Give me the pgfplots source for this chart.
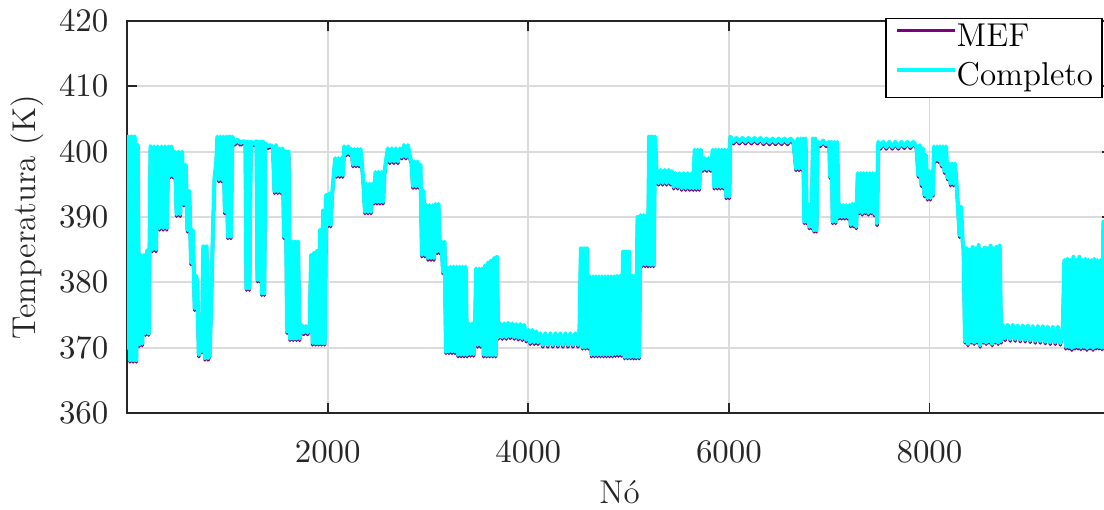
\documentclass[border=0pt]{standalone}
\usepackage{pgfplots}
\pgfplotsset{compat=1.18}
\usepackage{pgfplotstable}
\definecolor{mefc}{rgb}{0.49,0.0,0.5}
\definecolor{compc}{rgb}{0.0,1.0,1.0}
\definecolor{axc}{rgb}{0.15,0.15,0.15}
\definecolor{gridc}{rgb}{0.86,0.86,0.86}

\pgfplotstableread{
x c m
1 387.0 386.7
6 370.0 369.7
12 402.3 402.0
28 368.1 367.8
44 402.3 402.0
60 368.1 367.8
76 402.3 402.0
92 368.1 367.8
106 401.0 400.7
120 370.5 370.2
136 384.2 383.9
152 370.6 370.3
168 384.2 383.9
184 372.2 371.9
200 384.9 384.6
216 372.2 371.9
234 400.8 400.5
252 385.0 384.7
270 400.8 400.5
288 385.0 384.7
306 400.8 400.5
324 388.3 388.0
342 400.8 400.5
360 388.3 388.0
378 400.8 400.5
396 388.3 388.0
412 400.8 400.5
428 396.3 396.0
444 400.8 400.5
460 396.3 396.0
476 400.0 399.7
494 390.4 390.1
512 400.0 399.7
530 390.4 390.1
548 400.0 399.7
566 392.0 391.7
584 398.0 397.7
602 388.0 387.7
620 394.0 393.7
638 383.0 382.7
656 388.0 387.7
674 376.0 375.7
690 381.0 380.7
700 379.6 379.3
715 368.9 368.6
730 371.0 370.7
745 369.5 369.2
760 385.5 385.2
776 368.4 368.1
792 385.5 385.2
808 368.4 368.1
824 369.0 368.7
840 378.0 377.7
856 388.0 387.7
872 396.0 395.7
890 398.5 398.2
900 402.3 402.0
915 395.7 395.4
930 402.3 402.0
945 395.7 395.4
960 402.3 402.0
975 390.8 390.5
990 402.3 402.0
1005 387.0 386.7
1020 402.3 402.0
1035 387.0 386.7
1050 402.3 402.0
1070 401.3 401.0
1100 401.8 401.5
1130 401.3 401.0
1160 401.6 401.3
1180 401.5 401.2
1190 379.1 378.8
1205 401.5 401.2
1220 379.1 378.8
1234 401.5 401.2
1260 401.2 400.9
1290 401.6 401.3
1300 380.4 380.1
1312 401.5 401.2
1322 380.4 380.1
1332 401.5 401.2
1344 378.3 378.0
1356 401.5 401.2
1368 378.3 378.0
1378 401.3 401.0
1400 400.8 400.5
1430 401.0 400.7
1454 400.7 400.4
1470 393.9 393.6
1486 401.0 400.7
1502 393.9 393.6
1518 400.5 400.2
1534 393.9 393.6
1550 400.5 400.2
1565 387.0 386.7
1580 400.0 399.7
1595 372.5 372.2
1610 400.0 399.7
1625 371.4 371.1
1640 386.2 385.9
1656 371.4 371.1
1672 386.2 385.9
1688 371.4 371.1
1704 386.2 385.9
1720 371.4 371.1
1740 373.5 373.2
1760 372.3 372.0
1780 373.3 373.0
1800 372.3 372.0
1820 373.0 372.7
1835 384.2 383.9
1850 370.7 370.4
1865 384.5 384.2
1880 370.7 370.4
1895 384.8 384.5
1910 370.7 370.4
1925 388.0 387.7
1940 370.7 370.4
1955 391.0 390.7
1970 370.7 370.4
1985 393.4 393.1
2000 388.8 388.5
2015 393.6 393.3
2030 388.8 388.5
2045 393.6 393.3
2060 396.4 396.1
2075 399.0 398.7
2090 396.4 396.1
2105 399.0 398.7
2120 396.4 396.1
2135 399.0 398.7
2150 396.4 396.1
2165 400.8 400.5
2185 399.7 399.4
2205 400.8 400.5
2222 399.7 399.4
2237 400.4 400.1
2252 398.0 397.7
2267 400.4 400.1
2282 398.0 397.7
2297 400.4 400.1
2312 398.0 397.7
2327 400.4 400.1
2342 398.0 397.7
2357 395.1 394.8
2372 390.8 390.5
2387 395.1 394.8
2402 390.8 390.5
2417 395.1 394.8
2432 390.8 390.5
2447 395.1 394.8
2462 392.3 392.0
2477 396.9 396.6
2492 392.3 392.0
2507 396.9 396.6
2522 392.3 392.0
2537 396.9 396.6
2552 392.3 392.0
2567 396.9 396.6
2580 398.5 398.2
2600 400.5 400.2
2620 398.5 398.2
2640 400.5 400.2
2660 398.5 398.2
2680 400.5 400.2
2700 398.5 398.2
2720 400.5 400.2
2740 399.2 398.9
2760 401.0 400.7
2780 399.2 398.9
2800 401.0 400.7
2820 399.2 398.9
2835 398.5 398.2
2850 394.7 394.4
2865 398.5 398.2
2880 394.7 394.4
2895 398.5 398.2
2910 394.7 394.4
2925 398.0 397.7
2940 384.2 383.9
2955 394.0 393.7
2970 384.2 383.9
2985 391.8 391.5
3000 383.7 383.4
3015 391.8 391.5
3030 383.7 383.4
3045 391.8 391.5
3060 383.7 383.4
3075 392.0 391.7
3090 384.7 384.4
3105 392.0 391.7
3120 384.7 384.4
3135 386.2 385.9
3150 381.6 381.3
3165 386.2 385.9
3180 369.4 369.1
3195 382.2 381.9
3210 369.4 369.1
3225 382.4 382.1
3240 369.4 369.1
3255 382.4 382.1
3270 369.4 369.1
3285 382.4 382.1
3300 368.9 368.6
3315 382.4 382.1
3330 368.9 368.6
3345 382.4 382.1
3360 368.9 368.6
3375 382.4 382.1
3390 368.9 368.6
3410 373.7 373.4
3425 369.0 368.7
3440 373.7 373.4
3455 369.0 368.7
3470 373.7 373.4
3480 382.1 381.8
3495 370.4 370.1
3510 382.1 381.8
3525 370.4 370.1
3540 382.1 381.8
3555 368.9 368.6
3570 382.6 382.3
3585 368.9 368.6
3600 383.0 382.7
3615 368.9 368.6
3630 383.3 383.0
3645 368.9 368.6
3660 383.7 383.4
3675 368.9 368.6
3688 383.9 383.6
3700 371.6 371.3
3720 373.7 373.4
3740 371.6 371.3
3760 373.7 373.4
3780 371.6 371.3
3800 373.8 373.5
3820 371.7 371.4
3840 373.7 373.4
3860 371.6 371.3
3880 373.6 373.3
3900 371.5 371.2
3920 373.6 373.3
3940 371.4 371.1
3960 373.5 373.2
3980 371.2 370.9
4000 372.7 372.4
4020 370.8 370.5
4040 372.7 372.4
4060 370.8 370.5
4080 372.5 372.2
4097 370.8 370.5
4120 372.2 371.9
4145 370.4 370.1
4170 372.2 371.9
4195 370.4 370.1
4220 372.2 371.9
4245 370.4 370.1
4270 372.2 371.9
4295 370.4 370.1
4320 372.2 371.9
4345 370.4 370.1
4370 372.2 371.9
4395 370.4 370.1
4420 372.2 371.9
4445 370.4 370.1
4470 372.2 371.9
4495 370.4 370.1
4510 372.0 371.7
4525 385.2 384.9
4540 370.1 369.8
4555 385.2 384.9
4570 370.1 369.8
4585 385.2 384.9
4600 370.1 369.8
4615 380.9 380.6
4630 368.9 368.6
4645 380.9 380.6
4660 368.9 368.6
4675 380.9 380.6
4690 368.9 368.6
4705 380.9 380.6
4720 368.9 368.6
4735 380.9 380.6
4750 368.9 368.6
4765 380.9 380.6
4780 368.9 368.6
4795 380.9 380.6
4810 368.9 368.6
4825 380.9 380.6
4840 368.9 368.6
4855 380.9 380.6
4870 369.0 368.7
4885 381.0 380.7
4900 369.0 368.7
4915 381.0 380.7
4930 369.0 368.7
4945 384.7 384.4
4960 368.6 368.3
4975 384.7 384.4
4990 368.6 368.3
5005 384.7 384.4
5020 368.6 368.3
5035 381.0 380.7
5050 368.6 368.3
5064 381.0 380.7
5075 368.6 368.3
5090 390.0 389.7
5105 368.6 368.3
5120 390.3 390.0
5135 382.7 382.4
5150 390.3 390.0
5165 382.7 382.4
5180 390.3 390.0
5194 382.7 382.4
5205 402.3 402.0
5220 382.7 382.4
5235 402.3 402.0
5250 382.7 382.4
5265 402.3 402.0
5280 396.0 395.7
5300 395.2 394.9
5320 397.2 396.9
5340 395.2 394.9
5360 397.2 396.9
5380 395.2 394.9
5400 397.2 396.9
5420 395.2 394.9
5433 397.0 396.7
5450 394.6 394.3
5470 396.7 396.4
5490 394.6 394.3
5510 396.7 396.4
5530 394.4 394.1
5550 396.7 396.4
5570 394.4 394.1
5590 396.7 396.4
5610 394.4 394.1
5630 396.7 396.4
5645 394.4 394.1
5660 400.3 400.0
5675 394.4 394.1
5690 400.3 400.0
5705 394.4 394.1
5720 400.3 400.0
5740 397.3 397.0
5760 399.0 398.7
5780 397.3 397.0
5800 399.0 398.7
5820 397.3 397.0
5840 400.3 400.0
5855 394.6 394.3
5870 400.3 400.0
5885 394.6 394.3
5900 400.3 400.0
5915 394.6 394.3
5930 400.3 400.0
5945 394.6 394.3
5960 400.3 400.0
5975 393.1 392.8
5990 400.3 400.0
6005 393.1 392.8
6015 402.3 402.0
6045 401.5 401.2
6075 402.1 401.8
6105 401.5 401.2
6135 402.1 401.8
6165 401.5 401.2
6195 402.1 401.8
6225 401.5 401.2
6255 402.1 401.8
6285 401.5 401.2
6315 402.1 401.8
6345 401.4 401.1
6375 402.0 401.7
6405 401.4 401.1
6435 402.0 401.7
6465 401.4 401.1
6495 402.0 401.7
6525 401.4 401.1
6555 402.0 401.7
6585 401.4 401.1
6615 402.0 401.7
6645 401.5 401.2
6670 397.4 397.1
6685 402.0 401.7
6700 397.4 397.1
6715 402.0 401.7
6730 397.4 397.1
6740 402.0 401.7
6752 389.3 389.0
6764 402.0 401.7
6776 389.3 389.0
6790 392.0 391.7
6802 388.5 388.2
6814 392.0 391.7
6826 388.5 388.2
6838 402.0 401.7
6850 388.0 387.7
6862 402.0 401.7
6874 388.0 387.7
6885 401.5 401.2
6910 401.1 400.8
6940 401.7 401.4
6970 401.1 400.8
7000 401.5 401.2
7010 396.2 395.9
7025 401.5 401.2
7035 389.3 389.0
7050 401.5 401.2
7065 389.3 389.0
7080 401.5 401.2
7095 390.0 389.7
7110 391.8 391.5
7125 390.0 389.7
7140 391.8 391.5
7155 390.0 389.7
7170 391.8 391.5
7185 390.0 389.7
7200 391.8 391.5
7215 388.8 388.5
7230 392.0 391.7
7245 388.8 388.5
7258 392.0 391.7
7270 388.5 388.2
7285 396.7 396.4
7300 390.8 390.5
7315 396.7 396.4
7330 390.6 390.3
7345 396.7 396.4
7360 390.8 390.5
7375 396.7 396.4
7390 390.6 390.3
7405 396.7 396.4
7420 390.8 390.5
7435 396.7 396.4
7450 390.5 390.2
7465 396.7 396.4
7478 389.0 388.7
7490 401.5 401.2
7510 400.7 400.4
7540 401.5 401.2
7570 400.7 400.4
7600 401.5 401.2
7630 400.7 400.4
7660 401.5 401.2
7690 400.7 400.4
7720 401.5 401.2
7750 400.8 400.5
7780 401.5 401.2
7810 400.8 400.5
7840 401.5 401.2
7870 400.8 400.5
7890 396.4 396.1
7905 401.0 400.7
7920 395.0 394.7
7935 400.5 400.2
7950 393.4 393.1
7965 399.5 399.2
7980 392.9 392.6
7995 397.0 396.7
8010 392.9 392.6
8025 397.0 396.7
8036 393.5 393.2
8045 400.8 400.5
8060 398.7 398.4
8075 400.8 400.5
8090 398.7 398.4
8105 400.8 400.5
8120 398.0 397.7
8135 400.8 400.5
8150 397.0 396.7
8165 400.8 400.5
8180 396.0 395.7
8195 398.2 397.9
8210 395.1 394.8
8225 398.2 397.9
8240 395.1 394.8
8255 398.2 397.9
8270 395.1 394.8
8285 391.6 391.3
8300 387.2 386.9
8315 391.6 391.3
8330 386.5 386.2
8340 385.2 384.9
8355 371.0 370.7
8370 385.2 384.9
8385 370.6 370.3
8400 385.0 384.7
8415 371.0 370.7
8430 385.4 385.1
8445 370.8 370.5
8460 385.2 384.9
8475 371.0 370.7
8490 385.7 385.4
8505 370.4 370.1
8520 385.0 384.7
8535 371.0 370.7
8550 385.3 385.0
8565 370.8 370.5
8580 385.2 384.9
8595 371.0 370.7
8610 385.6 385.3
8625 370.6 370.3
8640 385.2 384.9
8655 371.0 370.7
8670 385.4 385.1
8685 370.8 370.5
8700 385.6 385.3
8715 371.0 370.7
8730 373.5 373.2
8755 371.4 371.1
8780 373.5 373.2
8805 371.3 371.0
8830 373.5 373.2
8855 371.3 371.0
8880 373.4 373.1
8905 371.2 370.9
8930 373.4 373.1
8955 371.2 370.9
8980 373.4 373.1
9005 371.1 370.8
9030 373.3 373.0
9055 371.0 370.7
9080 373.3 373.0
9105 371.0 370.7
9130 373.3 373.0
9155 370.9 370.6
9180 373.2 372.9
9205 370.8 370.5
9230 373.2 372.9
9255 370.8 370.5
9280 373.2 372.9
9305 370.7 370.4
9330 373.0 372.7
9345 383.4 383.1
9360 370.1 369.8
9375 383.6 383.3
9390 370.1 369.8
9405 383.4 383.1
9420 369.9 369.6
9435 383.9 383.6
9450 370.1 369.8
9465 383.4 383.1
9480 370.1 369.8
9495 383.9 383.6
9510 370.0 369.7
9525 383.4 383.1
9540 370.1 369.8
9555 383.6 383.3
9570 369.9 369.6
9585 383.4 383.1
9600 370.1 369.8
9615 383.4 383.1
9630 369.9 369.6
9645 383.6 383.3
9660 370.1 369.8
9675 383.4 383.1
9690 370.1 369.8
9705 383.4 383.1
9720 370.0 369.7
9735 389.3 389.0
9750 370.0 369.7
9765 389.3 389.0
9780 370.0 369.7
9795 389.3 389.0
9810 370.0 369.7
9820 389.3 389.0
}\data

\begin{document}
\begin{tikzpicture}[font=\fontsize{11}{13.2}\selectfont]
\begin{axis}[
  scale only axis,
  width=328.27pt, height=130.67pt,
  xmin=1, xmax=9820, ymin=360, ymax=420,
  xtick={2000,4000,6000,8000},
  ytick={360,370,380,390,400,410,420},
  scaled ticks=false,
  /pgf/number format/1000 sep={},
  tick align=inside,
  major tick length=3.33pt,
  grid=major,
  grid style={line width=0.6pt, color=gridc},
  axis line style={line width=0.6pt, color=axc},
  tick style={line width=0.6pt, color=axc},
  ticklabel style={text=axc},
  xticklabel style={inner sep=0pt, anchor=north, yshift=-9.2pt},
  yticklabel style={inner sep=0pt, anchor=east, xshift=-6.1pt},
  xlabel={Nó},
  ylabel={Temperatura (K)},
  xlabel style={at={(axis description cs:0.5,-0.1709)}, anchor=north, inner sep=0pt, text=axc},
  ylabel style={at={(axis description cs:-0.1018,0.5)}, anchor=center, inner sep=0pt, rotate=0, text=axc},
  legend style={at={(axis description cs:0.7695,1.0077)}, anchor=north west,
    draw=black, line width=0.5pt, fill=white,
    inner xsep=3pt, inner ysep=1.7pt, row sep=3.3pt,
    nodes={inner sep=0pt, text height=7.6pt, text depth=2.2pt},
    /tikz/every even column/.append style={column sep=3.3pt},
    font=\fontsize{11}{13.2}\selectfont},
  legend cell align=left,
  legend image code/.code={\draw[#1] (0pt,2.6pt) -- (19.3pt,2.6pt);},
]
\addplot[mefc, line width=1.1pt, line join=round, mark=none] table[x=x, y=m]{\data};
\addlegendentry{MEF}
\addplot[compc, line width=1.35pt, line join=round, mark=none] table[x=x, y=c]{\data};
\addlegendentry{Completo}
\end{axis}
\pgfresetboundingbox
\useasboundingbox (-42.4pt,-32.33pt) rectangle (325.6pt,137.67pt);
\end{tikzpicture}
\end{document}
